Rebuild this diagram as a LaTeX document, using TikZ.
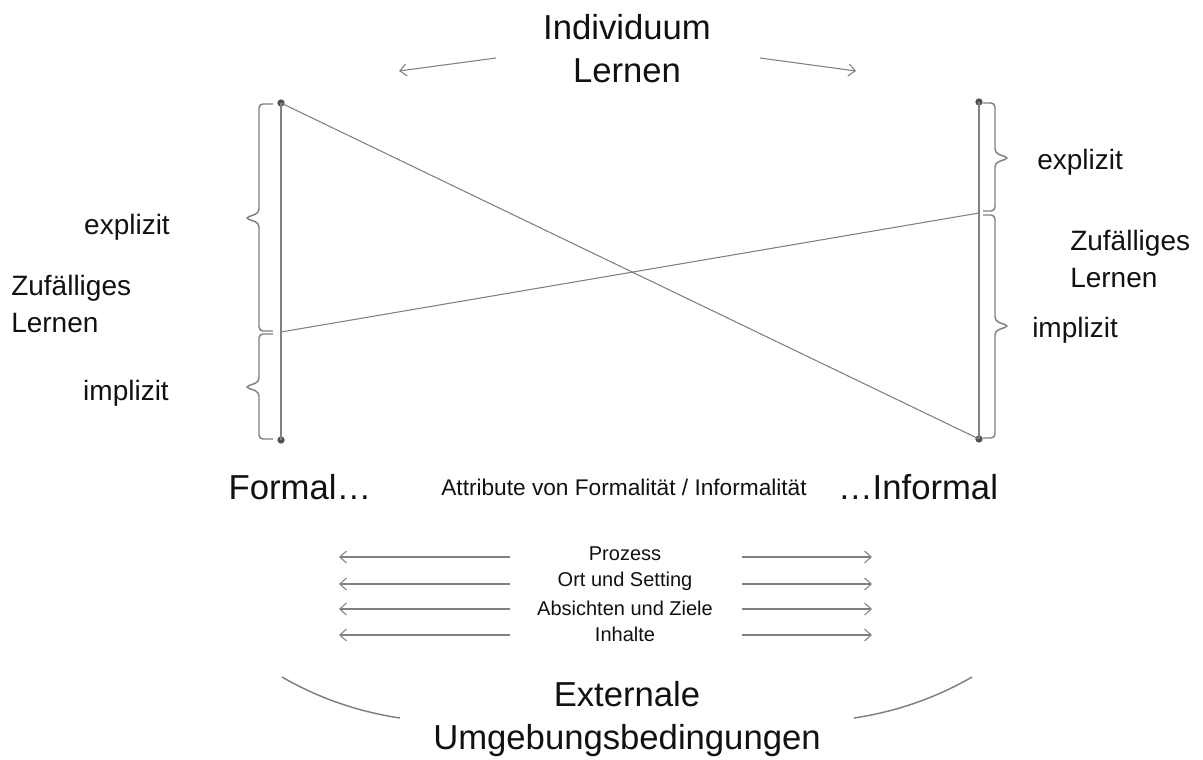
\documentclass[tikz,border=0pt]{standalone}
\usepackage{fontspec}
\setmainfont{Liberation Sans}
\usetikzlibrary{arrows.meta,calc}
\definecolor{linegray}{HTML}{808080}
\definecolor{dotgray}{HTML}{505050}
\definecolor{ink}{HTML}{111111}
\begin{document}
\begin{tikzpicture}[x=0.75pt,y=-0.75pt,
  bar/.style={draw=linegray, line width=1.2pt},
  crossline/.style={draw=linegray, line width=0.8pt},
  bracket/.style={draw=linegray, line width=1.1pt, rounded corners=3pt},
  endpoint/.style={circle, fill=dotgray, inner sep=0pt, minimum size=5.5pt},
  openarrow/.style={draw=linegray, line width=0.8pt,
    -{Straight Barb[length=5pt,width=9pt,line width=0.8pt]}},
  titletext/.style={text=ink, inner sep=0pt, font=\fontsize{26}{32.3}\selectfont, align=center},
  sidetext/.style={text=ink, inner sep=0pt, font=\fontsize{21}{26}\selectfont, align=left},
  midtext/.style={text=ink, inner sep=0pt, font=\fontsize{17}{20}\selectfont},
  rowtext/.style={text=ink, inner sep=0pt, font=\fontsize{15}{18}\selectfont},
]
\useasboundingbox (0,0) rectangle (1203,760);

% title and its two arrows
\node[titletext] (ind) at (627,49) {Individuum\\Lernen};
\coordinate (indLa) at (496,58);
\coordinate (indLb) at (399,71);
\coordinate (indRa) at (760,58);
\coordinate (indRb) at (856,71);
\draw[openarrow] (indLa) -- (indLb);
\draw[openarrow] (indRa) -- (indRb);

% the two vertical scales
\node[endpoint] (LT) at (281,103) {};
\node[endpoint] (LB) at (281,440) {};
\node[endpoint] (RT) at (979,102) {};
\node[endpoint] (RB) at (979,439) {};
\coordinate (LM) at (281,332);
\coordinate (RM) at (979,213);
\draw[bar] (LT.center) -- (LB.center);
\draw[bar] (RT.center) -- (RB.center);

% crossing lines
\draw[crossline] (LT.center) -- (RB.center);
\draw[crossline] (LM) -- (RM);

% braces on the left scale (ticks at x=273, spine at x=259, tip at x=245)
\draw[bracket] (273,104) -- (259,104) -- (259,213) -- (245,218) -- (259,223) -- (259,331) -- (273,331);
\draw[bracket] (273,334) -- (259,334) -- (259,382) -- (245,387) -- (259,392) -- (259,439) -- (273,439);
% braces on the right scale (ticks at x=983, spine at x=995, tip at x=1009)
\draw[bracket] (983,103) -- (995,103) -- (995,153) -- (1009,158) -- (995,163) -- (995,211) -- (983,211);
\draw[bracket] (983,215) -- (995,215) -- (995,321) -- (1009,326) -- (995,331) -- (995,438) -- (983,438);

% labels on the left
\node[sidetext] (lexp) at (127,227) {explizit};
\node[sidetext, anchor=west] (lzuf) at (11,288) {Zufälliges};
\node[sidetext, anchor=west] (ller) at (11,323) {Lernen};
\node[sidetext] (limp) at (126,393) {implizit};
% labels on the right
\node[sidetext, anchor=west] (rexp) at (1037,162) {explizit};
\node[sidetext, anchor=west] (rzuf) at (1070,243) {Zufälliges};
\node[sidetext, anchor=west] (rler) at (1070,278) {Lernen};
\node[sidetext, anchor=west] (rimp) at (1032,330) {implizit};

% axis labels
\node[titletext] (formal) at (300,487) {Formal…};
\node[titletext] (informal) at (918,487) {…Informal};
\node[midtext] (attr) at (624,487) {Attribute von Formalität / Informalität};

% attribute rows: label height / arrow height
\foreach \ty/\ay/\lab/\nm in {554/557/Prozess/pro, 581/584/Ort und Setting/ort, 608/609/Absichten und Ziele/abs, 634/635/Inhalte/inh}{
  \node[rowtext] (\nm) at (625,\ty) {\lab};
  \coordinate (\nm La) at (510,\ay);
  \coordinate (\nm Lb) at (339,\ay);
  \coordinate (\nm Ra) at (742,\ay);
  \coordinate (\nm Rb) at (872,\ay);
  \draw[openarrow] (\nm La) -- (\nm Lb);
  \draw[openarrow] (\nm Ra) -- (\nm Rb);
}

% external conditions
\node[titletext] (ext) at (627,719) {Externale\\Umgebungsbedingungen};
\coordinate (arcLa) at (282,677);
\coordinate (arcLb) at (400,718);
\coordinate (arcRa) at (854,718);
\coordinate (arcRb) at (972,677);
\draw[crossline, line width=1.1pt] (arcLa) .. controls (320,699) and (360,712) .. (arcLb);
\draw[crossline, line width=1.1pt] (arcRa) .. controls (894,712) and (934,699) .. (arcRb);
\end{tikzpicture}
\end{document}
